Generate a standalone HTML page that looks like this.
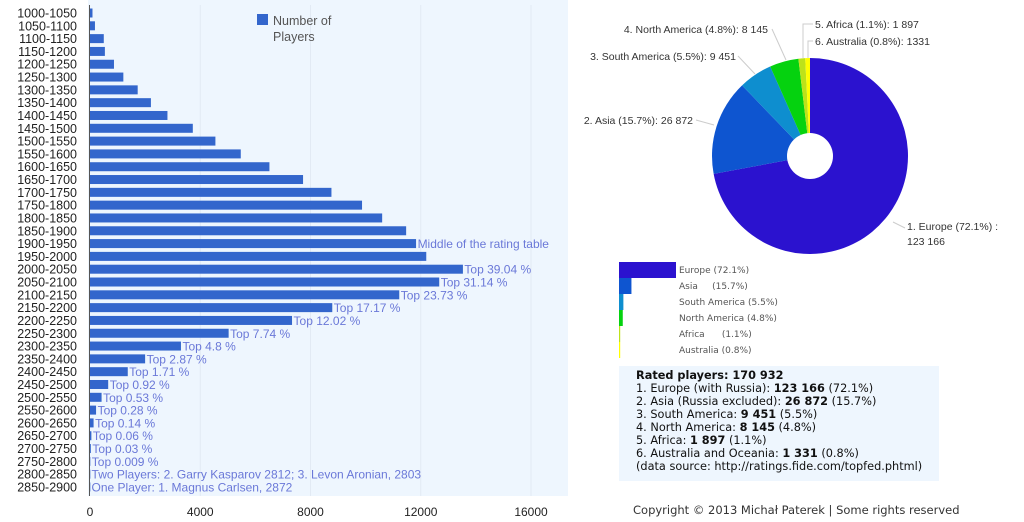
<!DOCTYPE html>
<html><head><meta charset="utf-8"><style>
body{margin:0;width:1024px;height:522px;background:#fff;overflow:hidden;position:relative;font-family:"Liberation Sans",sans-serif}
svg{position:absolute;left:0;top:0}
#info{position:absolute;left:619px;top:366px;width:320px;height:115px;background:#eef6fe;font-family:"DejaVu Sans",sans-serif;font-size:11.3px;line-height:13px;color:#111;box-sizing:border-box;padding:3px 0 0 17px}
#copy{position:absolute;left:633px;top:503px;font-family:"DejaVu Sans",sans-serif;font-size:11.5px;color:#333}
</style></head><body>
<svg id="bar" width="580" height="522"></svg>
<svg id="pie" width="1024" height="370" style="left:0;top:0;pointer-events:none"></svg>
<div id="info">
<b>Rated players: 170 932</b><br>
1. Europe (with Russia): <b>123 166</b> (72.1%)<br>
2. Asia (Russia excluded): <b>26 872</b> (15.7%)<br>
3. South America: <b>9 451</b> (5.5%)<br>
4. North America: <b>8 145</b> (4.8%)<br>
5. Africa: <b>1 897</b> (1.1%)<br>
6. Australia and Oceania: <b>1 331</b> (0.8%)<br>
(data source: http://ratings.fide.com/topfed.phtml)
</div>
<div id="copy">Copyright © 2013 Michał Paterek | Some rights reserved</div>
<script>
const categories=["1000-1050","1050-1100","1100-1150","1150-1200","1200-1250","1250-1300","1300-1350","1350-1400","1400-1450","1450-1500","1500-1550","1550-1600","1600-1650","1650-1700","1700-1750","1750-1800","1800-1850","1850-1900","1900-1950","1950-2000","2000-2050","2050-2100","2100-2150","2150-2200","2200-2250","2250-2300","2300-2350","2350-2400","2400-2450","2450-2500","2500-2550","2550-2600","2600-2650","2650-2700","2700-2750","2750-2800","2800-2850","2850-2900"];
const players=[90,180,500,540,870,1210,1730,2210,2810,3730,4550,5470,6510,7730,8760,9870,10600,11470,11830,12200,13530,12670,11220,8790,7330,5030,3300,2000,1370,660,420,220,130,50,30,10,2,1];
const annotations=["","","","","","","","","","","","","","","","","","","Middle of the rating table","","Top 39.04 %","Top 31.14 %","Top 23.73 %","Top 17.17 %","Top 12.02 %","Top 7.74 %","Top 4.8 %","Top 2.87 %","Top 1.71 %","Top 0.92 %","Top 0.53 %","Top 0.28 %","Top 0.14 %","Top 0.06 %","Top 0.03 %","Top 0.009 %","Two Players: 2. Garry Kasparov 2812; 3. Levon Aronian, 2803","One Player: 1. Magnus Carlsen, 2872"];
const xTicks=[0,4000,8000,12000,16000];
const regions=["1. Europe (72.1%) :","2. Asia (15.7%): 26 872","3. South America (5.5%): 9 451","4. North America (4.8%): 8 145","5. Africa (1.1%): 1 897","6. Australia (0.8%): 1331"];
const legendNames=["Europe (72.1%)","Asia     (15.7%)","South America (5.5%)","North America (4.8%)","Africa      (1.1%)","Australia (0.8%)"];
const regionValues=[123166,26872,9451,8145,1897,1331];
const colors=["#2b12cf","#0e55d0","#0e8ecf","#05d20f","#bde21a","#ffff00"];
const NS="http://www.w3.org/2000/svg";
function mk(p,t,a){const e=document.createElementNS(NS,t);for(const k in a)e.setAttribute(k,a[k]);p.appendChild(e);return e;}
// bar chart
const bar=document.getElementById('bar');
const x0=90,xPer=(531-90)/16000,y0=13,pitch=12.81;
const X=v=>x0+v*xPer, Y=i=>y0+i*pitch;
let bg=mk(bar,'rect',{x:88,y:0,width:480,height:496,fill:'#eef6fe'});

xTicks.forEach(t=>{
 if(t>0){let g=mk(bar,'line',{x1:X(t),x2:X(t),y1:5,y2:496,stroke:'#e2eaf4','stroke-width':1});}
 let l=mk(bar,'text',{x:X(t),y:516,'text-anchor':'middle','font-size':12,fill:'#222'});l.textContent=t;
 
});
mk(bar,'line',{x1:89.5,x2:89.5,y1:5,y2:496,stroke:'#555','stroke-width':1});
categories.forEach((c,i)=>{
 let t=mk(bar,'text',{x:77,y:Y(i)+4.5,'text-anchor':'end','font-size':12.5,fill:'#222'});t.textContent=c;
 
 let r=mk(bar,'rect',{x:x0,y:Y(i)-4.5,width:Math.max(players[i]*xPer,0.3),height:9,fill:'#3366cc'});
 
 if(annotations[i]){let a=mk(bar,'text',{x:X(players[i])+1.5,y:Y(i)+4.5,'font-size':12,fill:'#6a78d8'});a.textContent=annotations[i];
 }
});
let lg=mk(bar,'rect',{x:257,y:14,width:11,height:11,fill:'#3366cc'});
[["Number of",25],["Players",41]].forEach(([s,y])=>{let t=mk(bar,'text',{x:273,y:y,'font-size':12.5,fill:'#555'});t.textContent=s;});
// pie
const pie=document.getElementById('pie');
const cx=810,cy=156,R=98,total=regionValues.reduce((a,b)=>a+b,0);
let ang=0;
const pt=(a,r)=>[cx+r*Math.sin(a),cy-r*Math.cos(a)];
regionValues.forEach((v,i)=>{
 const a1=ang,a2=ang+v/total*2*Math.PI;ang=a2;
 const [sx,sy]=pt(a1,R),[ex,ey]=pt(a2,R);
 let p=mk(pie,'path',{d:`M${cx},${cy}L${sx},${sy}A${R},${R} 0 ${a2-a1>Math.PI?1:0} 1 ${ex},${ey}Z`,fill:colors[i]});
 
});
let hole=mk(pie,'circle',{cx:cx,cy:cy,r:23,fill:'#fff'});
const lbl=[[907,230,'start',[[893,222],[905,228]]],[693,124,'end',[[714,125],[696,120]]],[736,60,'end',[[755,74],[738,56]]],[768,33,'end',[[786,60],[772,29]]],[815,28,'start',[[803,58],[803,24],[813,24]]],[815,45,'start',[[808,58],[808,41],[813,41]]]];
regions.forEach((s,i)=>{
 const [x,y,anc,pts]=lbl[i];
 mk(pie,'polyline',{points:pts.map(p=>p.join(',')).join(' '),fill:'none',stroke:'#ccc','stroke-width':1});
 let t=mk(pie,'text',{x:x,y:y,'text-anchor':anc,'font-size':10.5,fill:'#333'});t.textContent=s;
 
 if(i===0){let t2=mk(pie,'text',{x:x,y:y+15,'font-size':10.5,fill:'#333'});t2.textContent='123 166';}
});
// legend bars
regionValues.forEach((v,i)=>{
 let r=mk(pie,'rect',{x:619,y:262+i*16,width:Math.max(v/regionValues[0]*57,1.2),height:16,fill:colors[i]});
 
 let t=mk(pie,'text',{x:679,y:273+i*16,'font-size':9,fill:'#555','font-family':'DejaVu Sans',style:'white-space:pre'});t.textContent=legendNames[i];
 
});
</script>
</body></html>
